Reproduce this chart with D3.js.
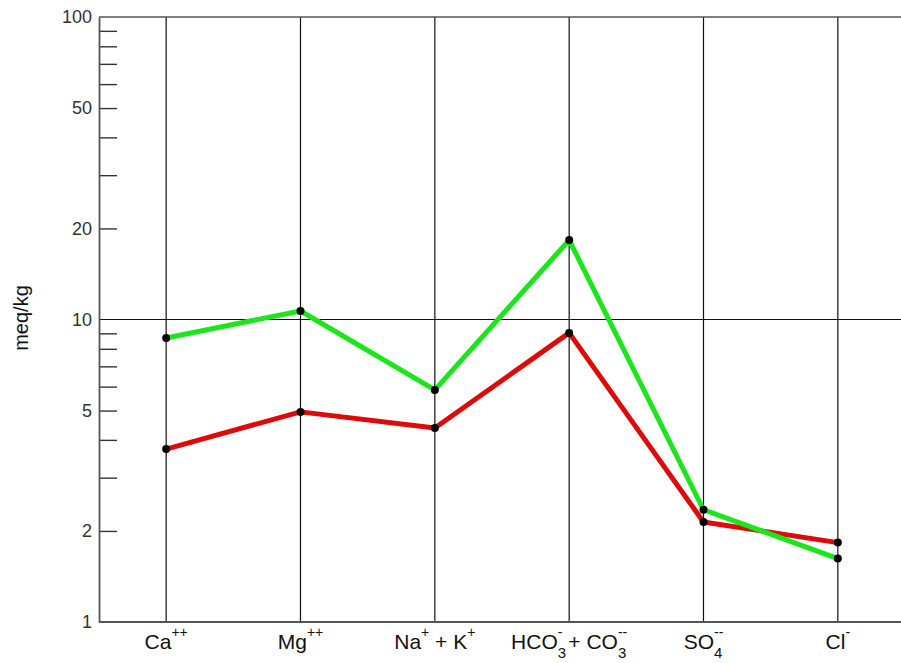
<!DOCTYPE html>
<html>
<head>
<meta charset="utf-8">
<script src="https://cdn.jsdelivr.net/npm/d3@7"></script>
<style>
body{margin:0;background:#fff;}
text{font-family:"Liberation Sans",Arial,sans-serif;}
</style>
</head>
<body>
<div id="graph"></div>
<script>
//data
var ions=["Ca","Mg","NaK","HCO3","SO4","Cl"];
var green=[8.69,10.67,5.85,18.3,2.35,1.62];
var red=[3.73,4.95,4.38,9.03,2.14,1.83];
var yLabels=[1,2,5,10,20,50,100];
var yMinor=[2,3,4,5,6,7,8,9,20,30,40,50,60,70,80,90];
// label pieces: n normal, p sup, s stacked sub/sup
var ionLabels=[
  [["n","Ca"],["p","++"]],
  [["n","Mg"],["p","++"]],
  [["n","Na"],["p","+"],["n"," + K"],["p","+"]],
  [["n","HCO"],["s","3","-"],["n"," + CO"],["s","3","--"]],
  [["n","SO"],["s","4","--"]],
  [["n","Cl"],["p","-"]]
];

var width=901, height=663;
var mLeft=99, mTop=17, mBottom=622, mRight=905;

var svg=d3.select("#graph").append("svg")
    .attr("width",width).attr("height",height);

var x=d3.scaleBand().domain(ions).range([mLeft,mRight]).padding(0);
var cx=function(d){return x(d)+x.bandwidth()/2;};
var y=d3.scaleLog().domain([1,100]).range([mBottom,mTop]);

// vertical category lines
svg.selectAll("line.cat").data(ions).enter().append("line")
  .attr("class","cat")
  .attr("x1",cx).attr("x2",cx)
  .attr("y1",mTop).attr("y2",mBottom)
  .attr("stroke","#111").attr("stroke-width",1.2);

// gridline at 10
svg.append("line")
  .attr("x1",mLeft).attr("x2",width)
  .attr("y1",y(10)).attr("y2",y(10))
  .attr("stroke","#111").attr("stroke-width",1.2);

// frame
svg.append("line").attr("x1",mLeft).attr("x2",width).attr("y1",mTop).attr("y2",mTop)
  .attr("stroke","#555").attr("stroke-width",1.6);
svg.append("line").attr("x1",mLeft).attr("x2",width).attr("y1",mBottom).attr("y2",mBottom)
  .attr("stroke","#555").attr("stroke-width",1.8);

// minor ticks inside
var minorAx=svg.append("g").attr("transform","translate("+mLeft+",0)")
  .call(d3.axisRight(y).tickValues(yMinor).tickSize(18).tickFormat(""));
minorAx.select(".domain").remove();
minorAx.selectAll("line").attr("stroke","#333").attr("stroke-width",1.4);

// labels
var labAx=svg.append("g").attr("transform","translate("+mLeft+",0)")
  .call(d3.axisLeft(y).tickValues(yLabels).tickSize(0).tickPadding(7).tickFormat(d3.format("d")));
labAx.select(".domain").attr("stroke","#555").attr("stroke-width",1.8);
labAx.selectAll("text").style("font-size","18px").attr("fill","#333")
  .style("font-family","'Liberation Sans',Arial,sans-serif");

svg.append("text")
  .attr("transform","translate(28,318) rotate(-90)")
  .attr("text-anchor","middle")
  .style("font-size","20px").attr("fill","#111")
  .text("meq/kg");

// series lines
var line=d3.line().x(function(d,i){return cx(ions[i]);}).y(function(d){return y(d);});
[[red,"#dd0a0a"],[green,"#1be61b"]].forEach(function(s){
  svg.append("path").datum(s[0])
    .attr("d",line).attr("fill","none")
    .attr("stroke",s[1]).attr("stroke-width",5)
    .attr("stroke-linejoin","round");
});
[red,green].forEach(function(s){
  svg.selectAll(null).data(s).enter().append("circle")
    .attr("cx",function(d,i){return cx(ions[i]);})
    .attr("cy",function(d){return y(d);})
    .attr("r",4).attr("fill","#000");
});

// category labels (one text each, tspans for sup/sub)
var tmp=svg.append("text").style("font-size","15px");
function subWidth(s){ tmp.text(s); return tmp.node().getComputedTextLength(); }
ionLabels.forEach(function(parts,i){
  var t=svg.append("text").attr("x",cx(ions[i])).attr("y",649)
    .attr("text-anchor","middle").attr("fill","#111");
  var off=0; // current baseline offset
  parts.forEach(function(p){
    if(p[0]=="n"){
      t.append("tspan").attr("dy",0-off).style("font-size","21px").text(p[1]);
      off=0;
    } else if(p[0]=="p"){
      t.append("tspan").attr("dy",-12-off).style("font-size","14px").text(p[1]);
      off=-12;
    } else {
      var w=subWidth(p[1]);
      t.append("tspan").attr("dy",9-off).style("font-size","15px").text(p[1]);
      t.append("tspan").attr("dx",-w).attr("dy",-21).style("font-size","14px").text(p[2]);
      off=-12;
    }
  });
});
tmp.remove();
</script>
</body>
</html>
